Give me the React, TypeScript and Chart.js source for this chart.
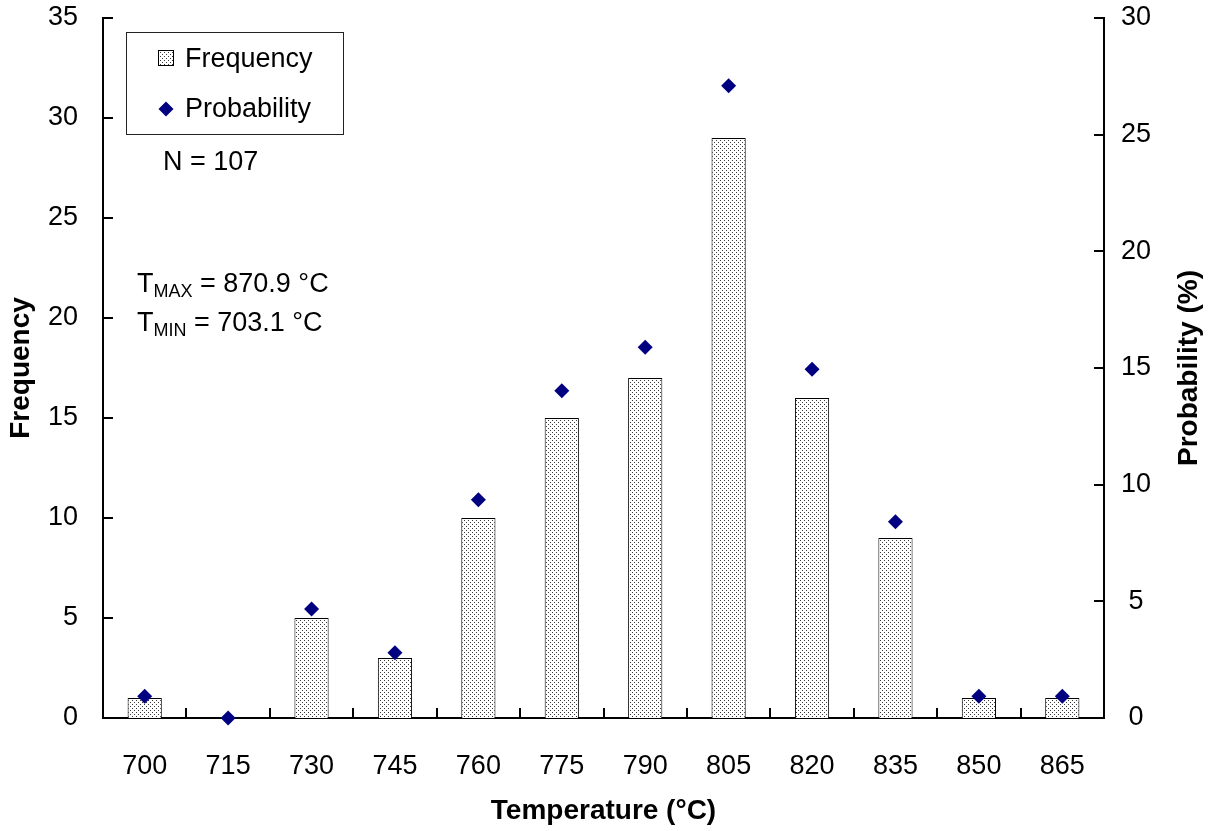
import React, { useEffect, useRef } from "react";
import { Chart, registerables } from "chart.js";

Chart.register(...registerables);

const categories = ["700", "715", "730", "745", "760", "775", "790", "805", "820", "835", "850", "865"];
const frequency = [1, 0, 5, 3, 10, 15, 17, 29, 16, 9, 1, 1];
const probability = [0.93, 0, 4.67, 2.8, 9.35, 14.02, 15.89, 27.1, 14.95, 8.41, 0.93, 0.93];
const leftTickStep = 5;
const leftMax = 35;
const rightTickStep = 5;
const rightMax = 30;
const legendLabels = ["Frequency", "Probability"];
const noteN = "N = 107";
const noteTmax = ["T", "MAX", " = 870.9 °C"];
const noteTmin = ["T", "MIN", " = 703.1 °C"];
const xTitle = "Temperature (°C)";
const yTitle = "Frequency";
const y1Title = "Probability (%)";

const FONT = "'Liberation Sans', Arial, sans-serif";
const NAVY = "#000080";

function makePattern(): CanvasPattern | string {
  const tile = document.createElement("canvas");
  tile.width = 4;
  tile.height = 4;
  const t = tile.getContext("2d");
  if (!t) return "#ddd";
  t.fillStyle = "#ffffff";
  t.fillRect(0, 0, 4, 4);
  t.fillStyle = "#3a3a3a";
  t.fillRect(0, 0, 1, 1);
  t.fillRect(2, 2, 1, 1);
  const c = document.createElement("canvas").getContext("2d");
  const p = c ? c.createPattern(tile, "repeat") : null;
  return p || "#ddd";
}

function zeroPad(s: any) {
  s.paddingTop = 0;
  s.paddingBottom = 0;
  s.paddingLeft = 0;
  s.paddingRight = 0;
}

export default function App() {
  const ref = useRef<HTMLCanvasElement | null>(null);

  useEffect(() => {
    if (!ref.current) return;
    const pattern = makePattern();

    const decor = {
      id: "decor",
      afterDraw(chart: any) {
        const ctx = chart.ctx as CanvasRenderingContext2D;
        const { left, right, top, bottom } = chart.chartArea;
        const yS = chart.scales.y;
        const y1S = chart.scales.y1;
        ctx.save();
        // inner tick marks
        ctx.strokeStyle = "#000";
        ctx.lineWidth = 2;
        ctx.beginPath();
        for (let v = 0; v <= leftMax; v += leftTickStep) {
          const py = Math.round(yS.getPixelForValue(v));
          ctx.moveTo(left, py);
          ctx.lineTo(left + 10, py);
        }
        for (let v = 0; v <= rightMax; v += rightTickStep) {
          const py = Math.round(y1S.getPixelForValue(v));
          ctx.moveTo(right, py);
          ctx.lineTo(right - 10, py);
        }
        const cw = (right - left) / categories.length;
        for (let i = 1; i < categories.length; i++) {
          const px = Math.round(left + i * cw);
          ctx.moveTo(px, bottom);
          ctx.lineTo(px, bottom - 10);
        }
        ctx.stroke();

        // legend box
        ctx.lineWidth = 1;
        ctx.strokeStyle = "#222";
        ctx.strokeRect(126.5, 32.5, 217, 102);
        ctx.fillStyle = pattern as any;
        ctx.fillRect(158, 50, 16, 16);
        ctx.strokeStyle = "#000";
        ctx.strokeRect(158.5, 50.5, 15, 15);
        ctx.fillStyle = NAVY;
        ctx.beginPath();
        ctx.moveTo(166, 101.5);
        ctx.lineTo(173.5, 109);
        ctx.lineTo(166, 116.5);
        ctx.lineTo(158.5, 109);
        ctx.closePath();
        ctx.fill();

        ctx.fillStyle = "#000";
        ctx.textAlign = "left";
        ctx.textBaseline = "alphabetic";
        ctx.font = `27px ${FONT}`;
        ctx.fillText(legendLabels[0], 185, 67);
        ctx.fillText(legendLabels[1], 185, 117);
        ctx.fillText(noteN, 163, 170);

        const drawSub = (parts: string[], x: number, base: number) => {
          ctx.font = `27px ${FONT}`;
          ctx.fillText(parts[0], x, base);
          let cx = x + ctx.measureText(parts[0]).width;
          ctx.font = `18px ${FONT}`;
          ctx.fillText(parts[1], cx, base + 5);
          cx += ctx.measureText(parts[1]).width;
          ctx.font = `27px ${FONT}`;
          ctx.fillText(parts[2], cx, base);
        };
        drawSub(noteTmax, 137, 292);
        drawSub(noteTmin, 137, 331);

        // axis titles
        ctx.font = `bold 28px ${FONT}`;
        ctx.textAlign = "center";
        ctx.textBaseline = "middle";
        ctx.fillText(xTitle, (left + right) / 2, 811);
        const midY = (top + bottom) / 2;
        ctx.save();
        ctx.translate(21, midY);
        ctx.rotate(-Math.PI / 2);
        ctx.fillText(yTitle, 0, 0);
        ctx.restore();
        ctx.save();
        ctx.translate(1189, midY);
        ctx.rotate(-Math.PI / 2);
        ctx.fillText(y1Title, 0, 0);
        ctx.restore();
        ctx.restore();
      },
    };

    const chart = new Chart(ref.current, {
      type: "bar",
      data: {
        labels: categories,
        datasets: [
          {
            type: "line",
            label: legendLabels[1],
            data: probability,
            yAxisID: "y1",
            showLine: false,
            pointStyle: "rectRot",
            pointRadius: 7.5,
            pointBackgroundColor: NAVY,
            pointBorderColor: NAVY,
            pointBorderWidth: 0,
            clip: false as any,
            order: 0,
          } as any,
          {
            type: "bar",
            label: legendLabels[0],
            data: frequency,
            yAxisID: "y",
            backgroundColor: pattern as any,
            borderColor: "#000",
            borderWidth: 1,
            barPercentage: 0.41,
            categoryPercentage: 1,
            order: 1,
          },
        ],
      },
      options: {
        responsive: false,
        animation: false,
        devicePixelRatio: 1,
        layout: { padding: { top: 18, left: 0, right: 0, bottom: 0 } },
        plugins: { legend: { display: false }, tooltip: { enabled: false } },
        scales: {
          x: {
            grid: { display: false, drawTicks: false },
            border: { display: true, color: "#000", width: 2 },
            ticks: { color: "#000", font: { family: FONT, size: 27 }, padding: 32, maxRotation: 0 },
            afterFit(s: any) {
              s.height = 113;
              zeroPad(s);
            },
          },
          y: {
            position: "left",
            min: 0,
            max: leftMax,
            grid: { display: false, drawTicks: false },
            border: { display: true, color: "#000", width: 2 },
            ticks: { stepSize: leftTickStep, color: "#000", font: { family: FONT, size: 27 }, padding: 25 },
            afterFit(s: any) {
              s.width = 103;
              zeroPad(s);
            },
          },
          y1: {
            position: "right",
            min: 0,
            max: rightMax,
            grid: { display: false, drawTicks: false },
            border: { display: true, color: "#000", width: 2 },
            ticks: { stepSize: rightTickStep, color: "#000", font: { family: FONT, size: 27 }, padding: 17, crossAlign: "center" },
            afterFit(s: any) {
              s.width = 108;
              zeroPad(s);
            },
          },
        },
      },
      plugins: [decor],
    });
    return () => chart.destroy();
  }, []);

  return (
    <div style={{ position: "fixed", left: 0, top: 0, width: 1212, height: 831, background: "#fff" }}>
      <canvas ref={ref} width={1212} height={831} />
    </div>
  );
}
